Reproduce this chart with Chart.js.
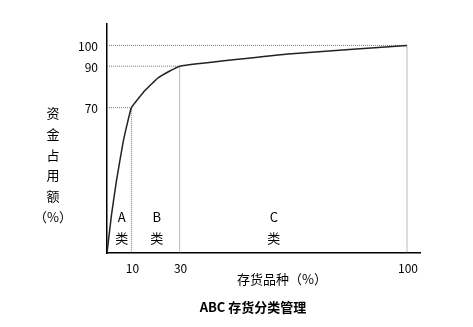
<!DOCTYPE html>
<html>
<head>
<meta charset="utf-8">
<script src="https://cdn.jsdelivr.net/npm/chart.js@4.4.1/dist/chart.umd.min.js"></script>
<style>
  html, body { margin: 0; padding: 0; background: #fff; }
  #wrap { width: 473px; height: 327px; }
</style>
</head>
<body>
<div id="wrap"><canvas id="abcChart"></canvas></div>
<script>
// Data
const curveX = [0, 1.8, 3.9, 6.7, 10, 15.8, 21.2, 30, 64.5, 100];
const curveY = [0, 18, 35, 54, 70, 78.5, 84.5, 90, 96, 100];
const classNames = ['A', 'B', 'C'];
const classBounds = [0, 10, 30, 100];
const xTicks = [10, 30, 100];
const yTicks = [70, 90, 100];
const yTitleLines = ['资', '金', '占', '用', '额', '（%）'];
const xTitle = '存货品种（%）';
const caption = 'ABC 存货分类管理';

// the x axis of the drawing is not to scale: map each stretch on its own
const xBreaks = [0, 10, 30, 104];
const xFractions = [0, 0.078, 0.232, 1];

class PiecewiseScale extends Chart.LinearScale {
  getPixelForValue(value) {
    let i = 1;
    while (i < xBreaks.length - 1 && value > xBreaks[i]) i++;
    const t = (value - xBreaks[i - 1]) / (xBreaks[i] - xBreaks[i - 1]);
    const dec = xFractions[i - 1] + t * (xFractions[i] - xFractions[i - 1]);
    return this.getPixelForDecimal(dec);
  }
  getValueForPixel(pixel) {
    const dec = this.getDecimalForPixel(pixel);
    let i = 1;
    while (i < xFractions.length - 1 && dec > xFractions[i]) i++;
    const t = (dec - xFractions[i - 1]) / (xFractions[i] - xFractions[i - 1]);
    return xBreaks[i - 1] + t * (xBreaks[i] - xBreaks[i - 1]);
  }
}
PiecewiseScale.id = 'piecewise';
PiecewiseScale.defaults = Chart.LinearScale.defaults;
Chart.register(PiecewiseScale);

const curve = curveX.map((x, i) => ({ x, y: curveY[i] }));

// dotted guides from the curve's corners to both axes
const guides = [1, 2, 3].map(i => {
  const x = classBounds[i];
  const y = curve.find(p => p.x === x).y;
  return {
    data: [{ x: 0, y }, { x, y }, { x, y: 0 }],
    borderColor: '#777',
    borderWidth: 1,
    borderDash: [1, 1],
    pointRadius: 0,
    tension: 0
  };
});

const cjk = '"Noto Sans CJK SC", "Noto Sans", sans-serif';

const textPlugin = {
  id: 'texts',
  afterDraw(chart) {
    const { ctx, scales: { x } } = chart;
    ctx.save();
    ctx.fillStyle = '#000';
    ctx.textAlign = 'center';
    ctx.textBaseline = 'middle';
    ctx.font = '13px ' + cjk;

    // class labels inside the plot
    const labelX = [6, 20.5, 59];
    classNames.forEach((name, i) => {
      const px = x.getPixelForValue(labelX[i]);
      ctx.fillText(name, px, 217);
      ctx.fillText('类', px, 238);
    });

    // y axis title, written top to bottom
    yTitleLines.forEach((t, i) => {
      ctx.fillText(t, 53, 113 + i * 20.8);
    });

    ctx.fillText(xTitle, 282, 279);

    ctx.font = 'bold 13px ' + cjk;
    ctx.fillText(caption, 253, 307);
    ctx.restore();
  }
};

new Chart(document.getElementById('abcChart'), {
  type: 'line',
  data: {
    datasets: [
      {
        data: curve,
        borderColor: '#222',
        borderWidth: 1.5,
        pointRadius: 0,
        tension: 0.1
      },
      ...guides
    ]
  },
  options: {
    responsive: true,
    maintainAspectRatio: false,
    animation: false,
    events: [],
    layout: { padding: { top: 24, right: 53, left: 0, bottom: 0 } },
    plugins: {
      legend: { display: false },
      tooltip: { enabled: false }
    },
    scales: {
      x: {
        type: 'piecewise',
        min: 0,
        max: 104,
        grid: { display: false, drawTicks: false },
        border: { display: true, color: '#000', width: 1.5 },
        afterBuildTicks: s => { s.ticks = xTicks.map(v => ({ value: v })); },
        afterFit: s => { s.height = 74; },
        ticks: {
          autoSkip: false,
          maxRotation: 0,
          padding: 8,
          labelOffset: 1,
          color: '#000',
          font: { family: cjk, size: 12 }
        }
      },
      y: {
        type: 'linear',
        min: 0,
        max: 110.3,
        grid: { display: false, drawTicks: false },
        border: { display: true, color: '#000', width: 1.5 },
        afterBuildTicks: s => { s.ticks = yTicks.map(v => ({ value: v })); },
        afterFit: s => { s.width = 107; },
        ticks: {
          padding: 9,
          labelOffset: 1,
          color: '#000',
          font: { family: cjk, size: 12 }
        }
      }
    }
  },
  plugins: [textPlugin]
});
</script>
</body>
</html>
